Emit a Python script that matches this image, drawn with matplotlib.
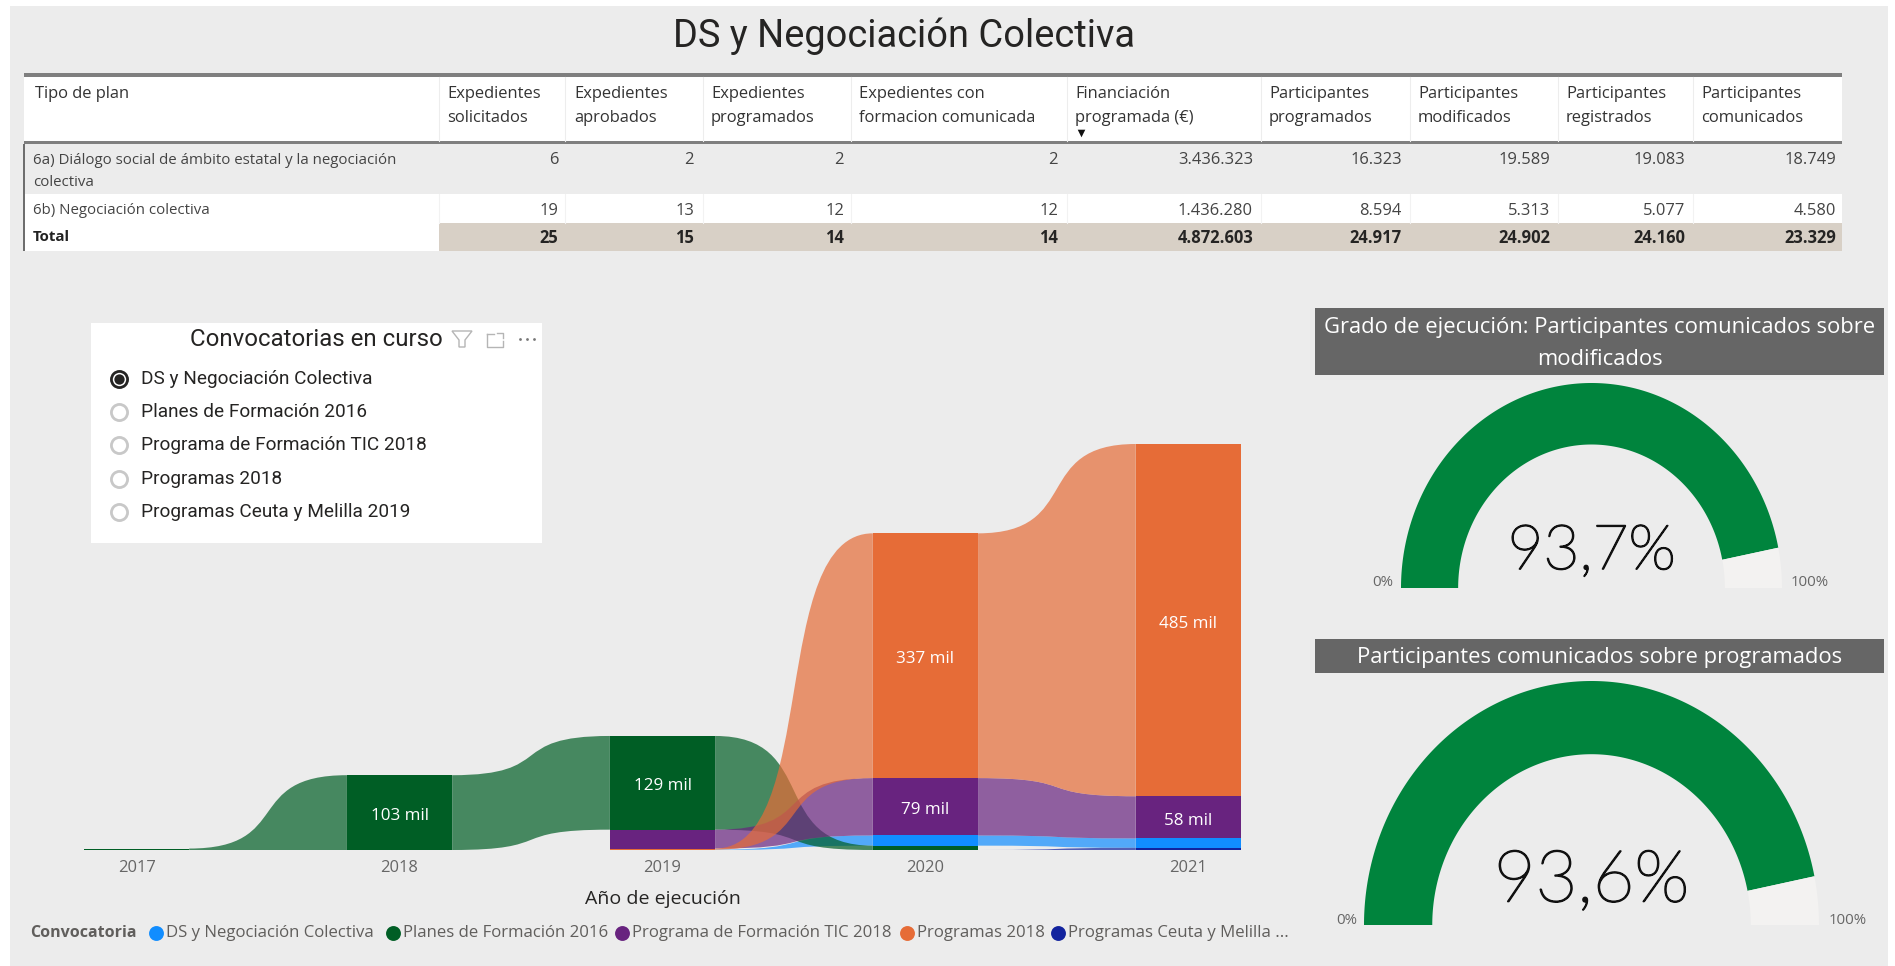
#!/usr/bin/env python3
import numpy as np
import matplotlib
matplotlib.use('Agg')
from matplotlib import pyplot as plt
from matplotlib import patheffects as pe
from matplotlib.patches import Rectangle, PathPatch, Polygon
from matplotlib.path import Path

W, H = 1895, 966

# table
columns = ['Tipo de plan', 'Expedientes\nsolicitados', 'Expedientes\naprobados', 'Expedientes\nprogramados',
           'Expedientes con\nformacion comunicada', 'Financiación\nprogramada (€)', 'Participantes\nprogramados',
           'Participantes\nmodificados', 'Participantes\nregistrados', 'Participantes\ncomunicados']
row_labels = ['6a) Diálogo social de ámbito estatal y la negociación\ncolectiva', '6b) Negociación colectiva', 'Total']
row_6a = [6, 2, 2, 2, 3436323, 16323, 19589, 19083, 18749]
row_6b = [19, 13, 12, 12, 1436280, 8594, 5313, 5077, 4580]
row_total = [25, 15, 14, 14, 4872603, 24917, 24902, 24160, 23329]

# slicer
slicer_title = 'Convocatorias en curso'
slicer_items = ['DS y Negociación Colectiva', 'Planes de Formación 2016', 'Programa de Formación TIC 2018',
                'Programas 2018', 'Programas Ceuta y Melilla 2019']

# ribbon chart, thousands. nan = no ribbon that year
years = [2017, 2018, 2019, 2020, 2021]
ds_negociacion = [np.nan, np.nan, 0.5, 14, 13]
planes_2016 = [2, 103, 129, 6, np.nan]
programa_tic = [np.nan, np.nan, 26, 79, 58]
programas_2018 = [np.nan, np.nan, 1.5, 337, 485]
ceuta_melilla = [np.nan, np.nan, np.nan, 0, 3]

series_names = ['DS y Negociación Colectiva', 'Programas Ceuta y Melilla ...', 'Planes de Formación 2016',
                'Programa de Formación TIC 2018', 'Programas 2018']
series_vals = [ds_negociacion, ceuta_melilla, planes_2016, programa_tic, programas_2018]
series_cols = ['#118DFF', '#12239E', '#005E25', '#68237F', '#E66C37']

# gauges
gauge_titles = ['Grado de ejecución: Participantes comunicados sobre\nmodificados',
                'Participantes comunicados sobre programados']
gauge_values = [93.7, 93.6]

BG = '#ECECEC'
UI = 'Open Sans'
DIN = 'Roboto'
plt.rcParams['font.family'] = [UI, 'DejaVu Sans']


def px(n):
    return n * 0.72


def dots(n):
    return f'{n:,}'.replace(',', '.')


def pxaxes(x0, y0, x1, y1, **kw):
    return fig.add_axes([x0 / W, 1 - y1 / H, (x1 - x0) / W, (y1 - y0) / H], **kw)


fig = plt.figure(figsize=(W / 100, H / 100), dpi=100, facecolor='white')

# overlay in pixel coordinates for the dashboard furniture
ov = fig.add_axes([0, 0, 1, 1], zorder=0)
ov.set_xlim(0, W)
ov.set_ylim(H, 0)
ov.axis('off')


def box(x0, y0, x1, y1, c, **kw):
    ov.add_patch(Rectangle((x0, y0), x1 - x0, y1 - y0, fc=c, ec='none', **kw))


box(10, 6, 1888, 966, BG)
ov.text(904, 36, 'DS y Negociación Colectiva', family=DIN, fontsize=px(38), color='#252423', ha='center', va='center')

# table
col_x = [24, 439, 565, 703, 851, 1067, 1261, 1410, 1558, 1693, 1842]
head_x = [35, 447, 574, 711, 859, 1075, 1269, 1418, 1566, 1701]
num_x = [558, 694, 844, 1058, 1253, 1402, 1550, 1685, 1836]
box(24, 77, 1842, 141, 'white')
box(24, 194, 1842, 223, 'white')
box(24, 223, 439, 251, 'white')
box(439, 223, 1842, 251, '#D8D0C6')
box(24, 73, 1842, 77, '#7F7F7F')
box(24, 141, 1842, 144, '#7F7F7F')
box(23, 144, 25, 251, '#6E6E6E')
for x in col_x[1:-1]:
    ov.plot([x, x], [77, 141], color='#EDEDED', lw=0.8)
    ov.plot([x, x], [194, 223], color='#F2F2F2', lw=0.8)
for x, lab in zip(head_x, columns):
    for k, line in enumerate(lab.split('\n')):
        ov.text(x, 94 + 24 * k, line, fontsize=px(16.5), color='#333333', va='center', ha='left')
ov.scatter([1081], [133], marker='v', s=30, c='#111111', lw=0)

for k, line in enumerate(row_labels[0].split('\n')):
    ov.text(33, 160 + 23 * k, line, fontsize=px(15), color='#444444', va='center')
ov.text(33, 211, row_labels[1], fontsize=px(15), color='#444444', va='center')
ov.text(33, 237, row_labels[2], fontsize=px(15), color='#222222', va='center', fontweight='bold')
for x, a, b, t in zip(num_x, row_6a, row_6b, row_total):
    ov.text(x, 160, dots(a), fontsize=px(16.5), color='#444444', ha='right', va='center')
    ov.text(x, 211, dots(b), fontsize=px(16.5), color='#444444', ha='right', va='center')
    ov.text(x, 238, dots(t), fontsize=px(16.5), color='#252423', ha='right', va='center', fontweight='bold')

# slicer card
box(91, 323, 542, 543, 'white')
ov.text(443, 339, slicer_title, family=DIN, fontsize=px(24), color='#252423', ha='right', va='center')
ov.add_patch(Polygon([(452, 331), (472, 331), (465, 340), (465, 347), (459, 347), (459, 340)], closed=True,
                     fc='none', ec='#B5B5B5', lw=1))
ov.plot([487, 487, 503, 503], [334, 347, 347, 341], color='#B5B5B5', lw=1)
ov.plot([487, 494], [334, 334], color='#B5B5B5', lw=1)
ov.plot([497, 503, 503], [333, 333, 338], color='#B5B5B5', lw=1)
ov.scatter([520, 527, 534], [339, 339, 339], s=4, c='#777777', lw=0)
for i, lab in enumerate(slicer_items):
    y = 379 + i * 33.2
    ov.text(141, y, lab, family=DIN, fontsize=px(19), color='#252423', va='center')
    ov.scatter([119], [y], s=135, fc='white', ec='#252423' if i == 0 else '#C8C8C8', lw=2)
    if i == 0:
        ov.scatter([119], [y], s=55, c='#252423', lw=0)

# ribbon chart
ax = pxaxes(84, 444, 1241, 850, zorder=1)
ax.patch.set_alpha(0)
hw = 0.2
bend = 2 / 3

tops = {}
bots = {}
for j in range(len(years)):
    present = [(vals[j], i) for i, vals in enumerate(series_vals) if np.isfinite(vals[j])]
    below = 0.0
    for v, i in sorted(present):
        bots[i, j] = below
        below += v
        tops[i, j] = below

for i, (vals, col) in enumerate(zip(series_vals, series_cols)):
    for j in range(len(years) - 1):
        if not (np.isfinite(vals[j]) and np.isfinite(vals[j + 1])):
            continue
        x0, x1 = years[j] + hw, years[j + 1] - hw
        xa = x0 + bend * (x1 - x0)
        xb = x1 - bend * (x1 - x0)
        verts = [(x0, tops[i, j]), (xa, tops[i, j]), (xb, tops[i, j + 1]), (x1, tops[i, j + 1]),
                 (x1, bots[i, j + 1]), (xb, bots[i, j + 1]), (xa, bots[i, j]), (x0, bots[i, j]), (x0, tops[i, j])]
        codes = [Path.MOVETO, Path.CURVE4, Path.CURVE4, Path.CURVE4, Path.LINETO, Path.CURVE4, Path.CURVE4,
                 Path.CURVE4, Path.CLOSEPOLY]
        ax.add_patch(PathPatch(Path(verts, codes), fc=col, ec='none', alpha=0.7, zorder=2))

for i, (vals, col) in enumerate(zip(series_vals, series_cols)):
    for j, y in enumerate(years):
        if not np.isfinite(vals[j]) or vals[j] == 0:
            continue
        ax.bar(y, vals[j], width=2 * hw, bottom=bots[i, j], color=col, zorder=3)
        if vals[j] >= 50:
            ax.annotate(f'{vals[j]:.0f} mil', (y, bots[i, j] + vals[j] / 2), xytext=(0, -2.5),
                        textcoords='offset points', color='white', fontsize=px(17),
                        ha='center', va='center', zorder=4)

ax.set_xlim(years[0] - hw, years[-1] + hw)
ax.set_ylim(0, max(tops.values()))
for s in ax.spines.values():
    s.set_visible(False)
ax.set_yticks([])
ax.set_xticks(years)
ax.set_xticklabels([str(y) for y in years], fontsize=px(16.5), color='#666666')
ax.tick_params(axis='x', length=0, pad=7)
ax.set_xlabel('Año de ejecución', fontsize=px(19.5), color='#252423')
ax.xaxis.set_label_coords((663 - 84) / (1241 - 84), -(899 - 850) / 406, transform=ax.transAxes)
ax.xaxis.label.set_va('center')

# legend
ov.text(30, 933, 'Convocatoria', fontsize=px(16), color='#605E5C', fontweight='bold', va='center')
legend_order = [0, 2, 3, 4, 1]
legend_dot = [156, 393, 622, 907, 1058]
for k, x in zip(legend_order, legend_dot):
    ov.scatter([x], [933], s=115, c=series_cols[k], lw=0)
    ov.text(x + 10, 933, series_names[k], fontsize=px(16.7), color='#605E5C', va='center')

# gauges
gauge_head = [(308, 375), (639, 673)]
gauge_box = [(1401, 1782, 383, 588, 0.70), (1364, 1819, 681, 925, 0.70)]
gauge_font = [(62, 1393, 1791, 583, 552), (72, 1357, 1829, 920, 882)]
for title, val, hd, gb, gf in zip(gauge_titles, gauge_values, gauge_head, gauge_box, gauge_font):
    box(1315, hd[0], 1884, hd[1], '#666666')
    ov.text(1600, (hd[0] + hd[1]) / 2 + 2, title, fontsize=px(22), color='white', ha='center', va='center',
            linespacing=1.7)
    g = pxaxes(gb[0], gb[2], gb[1], gb[3], zorder=1)
    g.set_xlim(-1, 1)
    g.set_ylim(0, 1)
    g.axis('off')
    split = np.pi * (1 - val / 100)
    for a0, a1, c in [(np.pi, split, '#00843D'), (split, 0, '#F3F2F1')]:
        t = np.linspace(a0, a1, 200)
        g.fill(np.r_[np.cos(t), gb[4] * np.cos(t[::-1])], np.r_[np.sin(t), gb[4] * np.sin(t[::-1])], color=c, lw=0)
    # only a hairline cut of Lato resolves for light, thickened with a stroke
    ov.text((gb[0] + gb[1]) / 2, gf[4], f'{val:.1f}%'.replace('.', ','), family=['Lato', 'DejaVu Sans'],
            fontweight='light', fontsize=px(gf[0]), color='#111111', ha='center', va='center',
            path_effects=[pe.withStroke(linewidth=1.2, foreground='#111111')])
    ov.text(gf[1], gf[3], '0%', fontsize=px(15), color='#666666', ha='right', va='center')
    ov.text(gf[2], gf[3], '100%', fontsize=px(15), color='#666666', ha='left', va='center')

fig.savefig('out.png', dpi=100, facecolor='white')
